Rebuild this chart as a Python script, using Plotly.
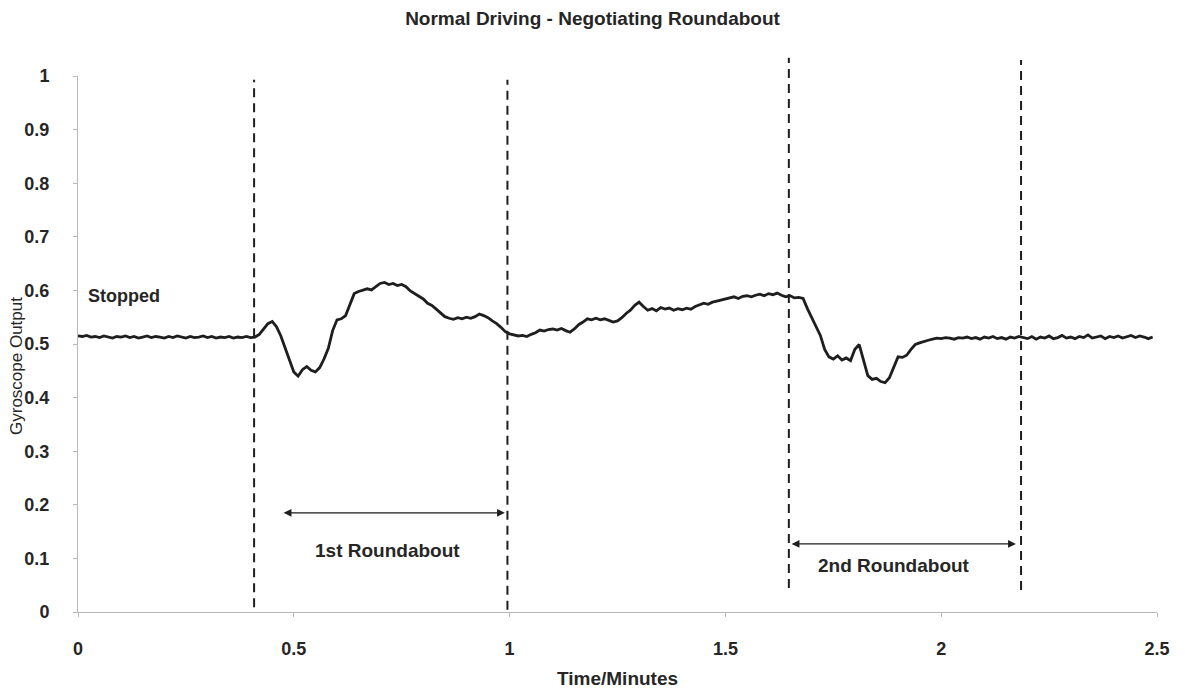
import numpy as np
import plotly.graph_objects as go

# Gyroscope output sampled every 0.01 minutes (0.00 .. 2.49)
time_min = np.round(np.arange(250) * 0.01, 2)
gyro_output = [
    0.515, 0.514, 0.516, 0.513, 0.514, 0.512, 0.515, 0.513, 0.511, 0.514,
    0.513, 0.515, 0.512, 0.514, 0.511, 0.513, 0.515, 0.512, 0.514, 0.513,
    0.511, 0.514, 0.512, 0.515, 0.513, 0.511, 0.514, 0.512, 0.513, 0.515,
    0.512, 0.514, 0.511, 0.513, 0.512, 0.514, 0.511, 0.513, 0.512, 0.514,
    0.512, 0.513, 0.518, 0.527, 0.538, 0.542, 0.532, 0.515, 0.494, 0.470,
    0.448, 0.440, 0.452, 0.458, 0.451, 0.448, 0.456, 0.472, 0.492, 0.525,
    0.545, 0.547, 0.553, 0.572, 0.594, 0.598, 0.600, 0.603, 0.601, 0.607,
    0.613, 0.615, 0.611, 0.613, 0.609, 0.611, 0.607, 0.599, 0.594, 0.590,
    0.584, 0.576, 0.572, 0.565, 0.558, 0.551, 0.548, 0.546, 0.549, 0.547,
    0.550, 0.548, 0.551, 0.556, 0.553, 0.549, 0.543, 0.538, 0.531, 0.523,
    0.519, 0.517, 0.515, 0.516, 0.514, 0.518, 0.521, 0.526, 0.524, 0.527,
    0.528, 0.526, 0.529, 0.525, 0.522, 0.528, 0.536, 0.541, 0.547, 0.545,
    0.548, 0.545, 0.547, 0.544, 0.541, 0.543, 0.549, 0.557, 0.563, 0.572,
    0.578, 0.570, 0.563, 0.566, 0.562, 0.568, 0.565, 0.567, 0.563, 0.566,
    0.564, 0.567, 0.565, 0.570, 0.573, 0.576, 0.574, 0.578, 0.580, 0.582,
    0.584, 0.586, 0.588, 0.585, 0.589, 0.590, 0.588, 0.591, 0.593, 0.590,
    0.594, 0.592, 0.595, 0.591, 0.588, 0.590, 0.586, 0.587, 0.585, 0.566,
    0.550, 0.534, 0.516, 0.490, 0.476, 0.472, 0.478, 0.470, 0.474, 0.469,
    0.490, 0.499, 0.470, 0.441, 0.434, 0.436, 0.430, 0.428, 0.437, 0.456,
    0.476, 0.475, 0.479, 0.490, 0.499, 0.502, 0.505, 0.507, 0.509, 0.511,
    0.510, 0.512, 0.511, 0.509, 0.512, 0.511, 0.513, 0.510, 0.512, 0.509,
    0.513, 0.511, 0.514, 0.510, 0.512, 0.509, 0.513, 0.511, 0.514, 0.512,
    0.510, 0.514, 0.509, 0.513, 0.511, 0.515, 0.510, 0.512, 0.516, 0.511,
    0.513, 0.510, 0.514, 0.512, 0.517, 0.511, 0.513, 0.515, 0.510, 0.514,
    0.512, 0.515, 0.511, 0.514, 0.516, 0.512, 0.515, 0.513, 0.510, 0.513,
]

# Phase boundaries (minutes) and the vertical extent of each marker line
boundary_times = [0.408, 0.995, 1.647, 2.185]
boundary_bottom = [0.009, 0.004, 0.045, 0.041]
boundary_top = [0.993, 0.993, 1.034, 1.030]

# Roundabout spans: start, end, arrow level, label
span_start = [0.473, 1.650]
span_end = [0.989, 2.173]
span_level = [0.185, 0.127]
span_labels = ["1st Roundabout", "2nd Roundabout"]
label_pos_x = [0.718, 1.891]
label_pos_y = [0.114, 0.086]

x_ticks = [0, 0.5, 1, 1.5, 2, 2.5]
x_tick_text = ["0", "0.5", "1", "1.5", "2", "2.5"]
y_ticks = [0, 0.1, 0.2, 0.3, 0.4, 0.5, 0.6, 0.7, 0.8, 0.9, 1]
y_tick_text = ["0", "0.1", "0.2", "0.3", "0.4", "0.5", "0.6", "0.7", "0.8", "0.9", "1"]

FONT = "Liberation Sans, Arial, sans-serif"
INK = "#1e1e1e"
TEXT = "#262626"

fig = go.Figure()
fig.add_trace(go.Scatter(
    x=time_min, y=gyro_output, mode="lines",
    line=dict(color=INK, width=2.8), showlegend=False, hoverinfo="skip",
))

shapes = []
for t, b, top in zip(boundary_times, boundary_bottom, boundary_top):
    shapes.append(dict(
        type="line", xref="x", yref="paper", x0=t, x1=t, y0=b, y1=top,
        line=dict(color=INK, width=2, dash="9px,6px"),
    ))

annotations = []
for s, e, lvl, lab, lx, ly in zip(span_start, span_end, span_level, span_labels,
                                  label_pos_x, label_pos_y):
    annotations.append(dict(
        x=e, y=lvl, ax=s, ay=lvl, xref="x", yref="y", axref="x", ayref="y",
        text="", showarrow=True, arrowhead=2, startarrowhead=2,
        arrowside="end+start", arrowwidth=1.2, arrowsize=1.3,
        startarrowsize=1.3, arrowcolor=INK, standoff=0, startstandoff=0,
    ))
    annotations.append(dict(
        x=lx, y=ly, xref="x", yref="y", text=lab, showarrow=False,
        font=dict(family=FONT, size=19, color=TEXT, weight="bold"),
    ))

annotations.append(dict(
    x=0.019, y=0.590, xref="x", yref="y", text="Stopped", showarrow=False,
    xanchor="left", font=dict(family=FONT, size=18, color=TEXT, weight="bold"),
))
# Axis titles placed in paper units (plot area spans 1079 x 536 px)
annotations.append(dict(
    x=0.5, y=(612 - 678) / 536, xref="paper", yref="paper",
    xanchor="center", yanchor="middle",
    text="Time/Minutes", showarrow=False,
    font=dict(family=FONT, size=19, color=TEXT, weight="bold"),
))
annotations.append(dict(
    x=(16 - 78) / 1079, y=(612 - 366) / 536, xref="paper", yref="paper",
    xanchor="center", yanchor="middle",
    text="Gyroscope Output", showarrow=False, textangle=-90,
    font=dict(family=FONT, size=17, color=TEXT),
))

fig.update_layout(
    width=1185, height=692,
    margin=dict(l=78, r=28, t=76, b=80),
    paper_bgcolor="white", plot_bgcolor="white",
    title=dict(
        text="Normal Driving - Negotiating Roundabout",
        x=0.5, xref="container", y=1 - 18 / 692, yref="container",
        yanchor="middle", xanchor="center",
        font=dict(family=FONT, size=19, color=TEXT, weight="bold"),
    ),
    shapes=shapes,
    annotations=annotations,
    xaxis=dict(
        range=[0, 2.5], tickvals=x_ticks, ticktext=x_tick_text,
        showgrid=False, zeroline=False, showline=True, linecolor="#b8b8b8",
        linewidth=1, ticks="outside", ticklen=4, tickcolor="#b8b8b8",
        ticklabelstandoff=16,
        tickfont=dict(family=FONT, size=18, color=TEXT, weight="bold"),
    ),
    yaxis=dict(
        range=[0, 1], tickvals=y_ticks, ticktext=y_tick_text,
        showgrid=False, zeroline=False, showline=True, linecolor="#b8b8b8",
        linewidth=1, ticks="outside", ticklen=4, tickcolor="#b8b8b8",
        ticklabelstandoff=20,
        tickfont=dict(family=FONT, size=18, color=TEXT, weight="bold"),
    ),
)

fig.write_html("out.html")
